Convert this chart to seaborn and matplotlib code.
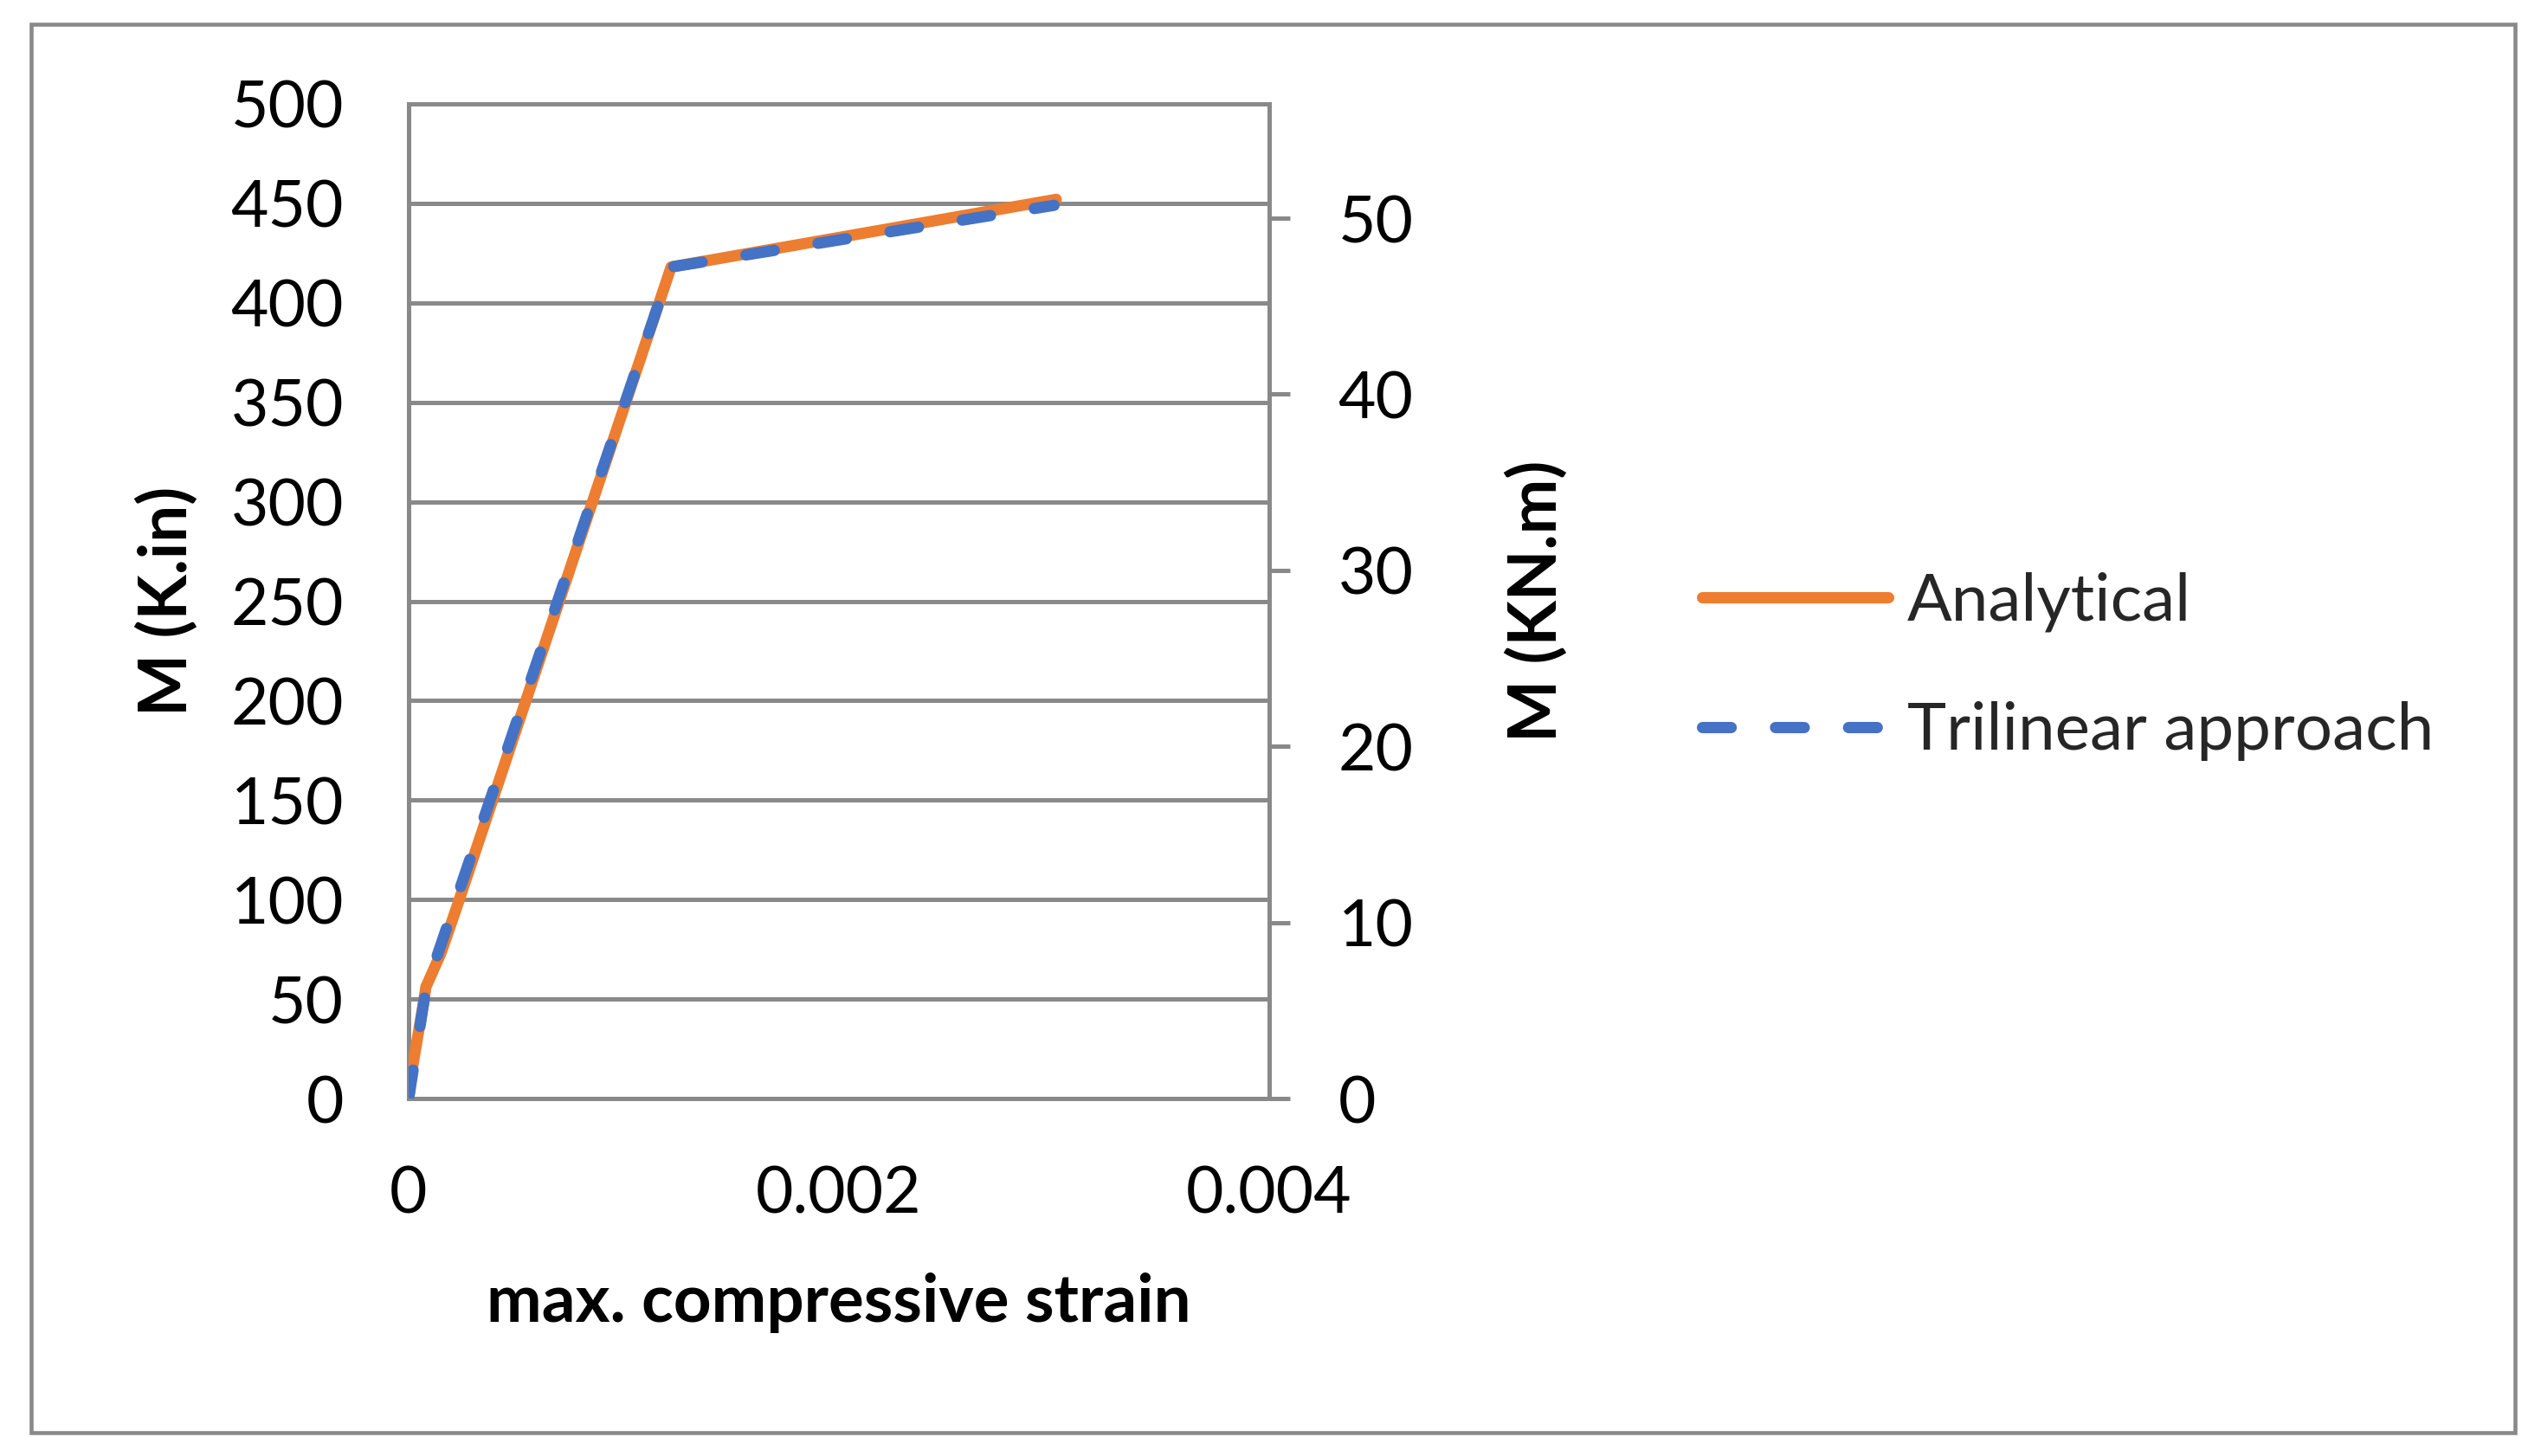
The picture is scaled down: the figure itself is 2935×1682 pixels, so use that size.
import matplotlib
matplotlib.use("Agg")
import matplotlib.pyplot as plt
from matplotlib.patches import Rectangle
import seaborn as sns
import pandas as pd

# ---- data ----
strain_analytical = [0.0, 0.00002, 0.000072, 0.00008, 0.00015, 0.00022, 0.00122, 0.00301]
moment_analytical = [0, 17, 50, 56, 73, 95, 418, 452]

strain_trilinear = [0.0, 0.00008, 0.00122, 0.00300]
moment_trilinear = [0, 55, 418, 449]

x_ticks = [0, 0.002, 0.004]
x_tick_labels = ["0", "0.002", "0.004"]
y_ticks = list(range(0, 501, 50))
y2_ticks = [0, 10, 20, 30, 40, 50]
KIPIN_PER_KNM = 8.8507

series_names = ["Analytical", "Trilinear approach"]
colors = ["#ED7D31", "#4472C4"]

sns.set_theme(style="white")
plt.rcParams["font.family"] = ["Lato", "DejaVu Sans"]

W, H = 2935, 1682
fig = plt.figure(figsize=(W / 100, H / 100), dpi=100)
fig.patch.set_facecolor("white")

# outer frame
fig.patches.append(Rectangle((36 / W, 1 - 1655 / H), (2905 - 36) / W, (1655 - 28) / H,
                             transform=fig.transFigure, fill=False,
                             edgecolor="#898989", lw=3.3, zorder=0))

L, R, T, B = 472, 1466, 120, 1269
ax = fig.add_axes([L / W, 1 - B / H, (R - L) / W, (B - T) / H])
ax.set_facecolor("white")

df_a = pd.DataFrame({"strain": strain_analytical, "M": moment_analytical})
df_t = pd.DataFrame({"strain": strain_trilinear, "M": moment_trilinear})

LW = 9.4
sns.lineplot(data=df_a, x="strain", y="M", ax=ax, color=colors[0], lw=LW,
             solid_capstyle="round", solid_joinstyle="round",
             label=series_names[0], sort=False, estimator=None, zorder=3)
sns.lineplot(data=df_t, x="strain", y="M", ax=ax, color=colors[1], lw=LW,
             linestyle=(0, (2.54, 3.92)), dash_capstyle="round", dash_joinstyle="round",
             label=series_names[1], sort=False, estimator=None, zorder=4)

ax.set_xlim(0, 0.004)
ax.set_ylim(0, 500)
ax.set_xticks(x_ticks)
ax.set_xticklabels(x_tick_labels)
ax.set_yticks(y_ticks)

grid_c = "#898989"
ax.yaxis.grid(True, color=grid_c, lw=3.6, zorder=1)
ax.xaxis.grid(False)
for s in ax.spines.values():
    s.set_color(grid_c)
    s.set_linewidth(3.6)

FS = 54
FSB = 55
ax.tick_params(axis="y", length=0, pad=54, labelsize=FS, labelcolor="black")
ax.tick_params(axis="x", length=0, pad=55, labelsize=FS, labelcolor="black")

ax.set_xlabel("max. compressive strain", fontsize=FSB, fontweight="bold", color="black")
ax.xaxis.label.set_va("center")
ax.xaxis.set_label_coords(0.5, ((H - 1505) - (H - B)) / (B - T))
ax.set_ylabel("M (K.in)", fontsize=FSB, fontweight="bold", color="black")
ax.yaxis.label.set_va("center")
ax.yaxis.set_label_coords((193 - L) / (R - L), 0.5)

ax2 = ax.twinx()
ax2.set_ylim(0, 500 / KIPIN_PER_KNM)
ax2.set_yticks(y2_ticks)
ax2.tick_params(axis="y", length=17.3, width=3.6, color=grid_c, pad=40,
                labelsize=FS, labelcolor="black", direction="out")
for s in ax2.spines.values():
    s.set_visible(False)
ax2.grid(False)
ax2.set_ylabel("M (KN.m)", fontsize=FSB, fontweight="bold", color="black")
ax2.yaxis.label.set_va("center")
ax2.yaxis.set_label_coords((1775 - L) / (R - L), 0.5)

# legend
handles, labels = ax.get_legend_handles_labels()
if ax.legend_ is not None:
    ax.legend_.remove()
fig.legend(handles, labels, loc="center left",
           bbox_to_anchor=(1966 / W, 1 - 770 / H), frameon=False,
           fontsize=55, handlelength=2.82, handletextpad=0.28,
           labelspacing=1.05, borderpad=0, borderaxespad=0)

fig.savefig("out.png", dpi=100)
